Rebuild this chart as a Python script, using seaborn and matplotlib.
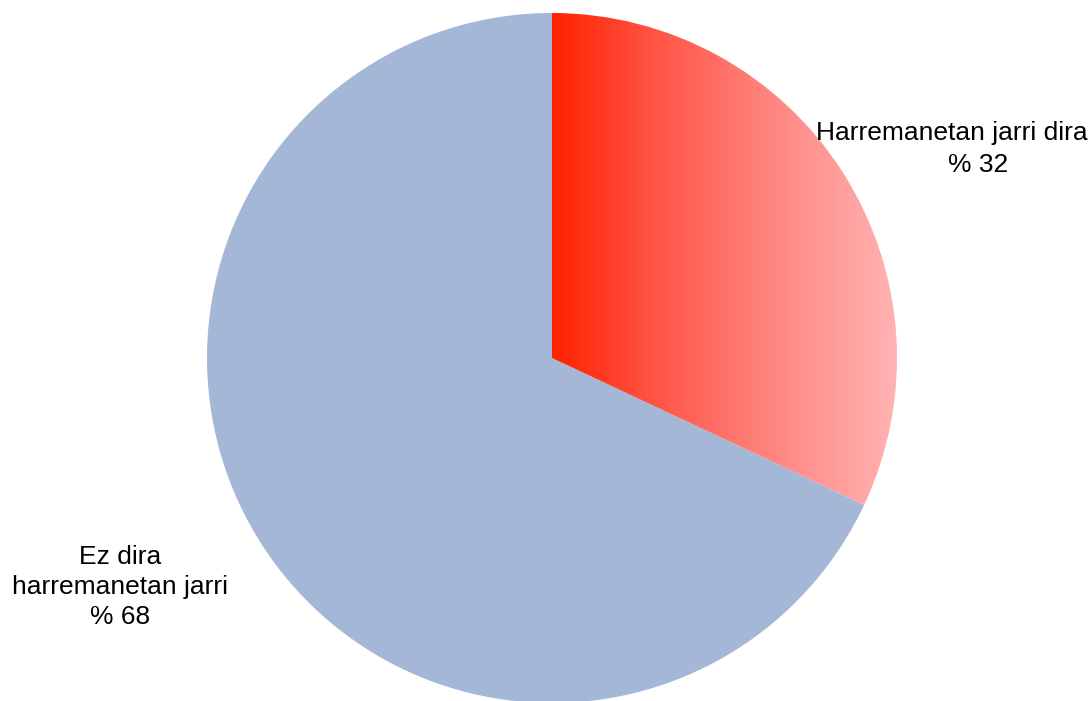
import matplotlib.pyplot as plt
import seaborn as sns
import numpy as np
from matplotlib.colors import LinearSegmentedColormap

sns.set_style("white")
plt.rcParams['font.family'] = ['Liberation Sans', 'DejaVu Sans']

# data
labels = ["Harremanetan jarri dira", "Ez dira\nharremanetan jarri"]
values = [32, 68]
base_colors = ["#FF2200", "#A4B7D7"]

W, H = 1092, 701
fig = plt.figure(figsize=(W / 100, H / 100), dpi=100)
ax = fig.add_axes([0, 0, 1, 1])

cx, cy, r = 552, H - 358, 345
wedges, _ = ax.pie(values, colors=base_colors, startangle=90, counterclock=False,
                   center=(cx, cy), radius=r, frame=True,
                   wedgeprops=dict(linewidth=0))

# horizontal gradient on the red slice
grad = LinearSegmentedColormap.from_list(
    "g", sns.blend_palette(["#FF2200", "#FF5A4E", "#FF8A85", "#FFB3B3"], 8))
wedges[0].set_facecolor("none")
img = ax.imshow(np.linspace(0, 1, 256)[None, :], cmap=grad, aspect="auto",
                extent=(cx, cx + r, cy - r, cy + r), zorder=1)
img.set_clip_path(wedges[0])

ax.set_xlim(0, W)
ax.set_ylim(0, H)
ax.set_aspect("equal")
ax.axis("off")

fs = 19
ax.text(952, H - 133, labels[0], ha="center", va="center", fontsize=fs, color="black")
ax.text(978, H - 165, f"% {values[0]}", ha="center", va="center", fontsize=fs, color="black")
ax.text(120, H - 587, f"{labels[1]}\n% {values[1]}", ha="center", va="center",
        fontsize=fs, linespacing=1.3, color="black")

fig.savefig("out.png", dpi=100)
